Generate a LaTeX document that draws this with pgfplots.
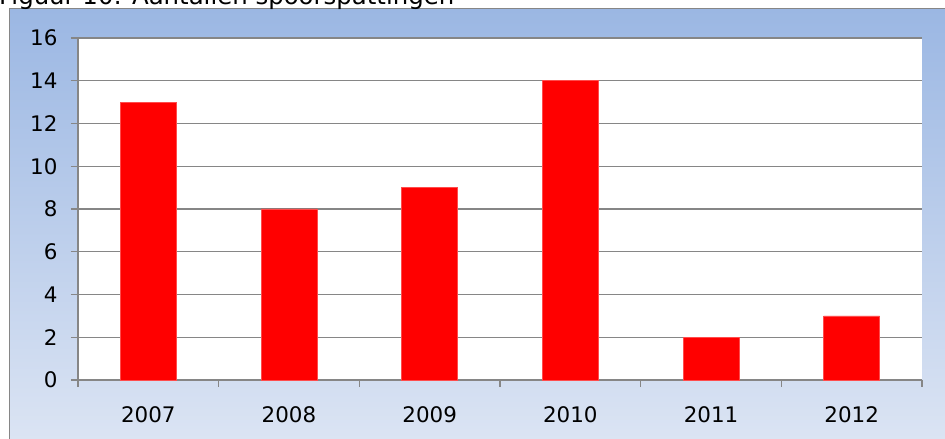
\documentclass[border=0pt]{standalone}
\usepackage{pgfplots}
\pgfplotsset{compat=1.18}
\usepackage{fontspec}
\setmainfont{DejaVu Sans}
\definecolor{bgtop}{RGB}{155,183,227}
\definecolor{bgbot}{RGB}{222,230,244}
\definecolor{axgray}{RGB}{134,134,134}
\begin{document}
\begin{tikzpicture}[x=1bp,y=1bp]
\path[use as bounding box] (0,0) rectangle (945,439);
\clip (0,0) rectangle (945,439);
\shade[top color=bgtop, bottom color=bgbot, draw=axgray, line width=1bp] (9,-20) rectangle (960,430);
\node[anchor=base west, inner sep=0pt, font=\fontsize{24.5}{28}\selectfont] at (-1,434) {Figuur 10: Aantallen spoorspattingen};
\begin{axis}[
  at={(78bp,59bp)}, anchor=south west,
  scale only axis, width=844bp, height=342bp,
  xmin=-0.5, xmax=5.5, ymin=0, ymax=16,
  axis lines=left, axis line style={draw=axgray, line width=1.3bp, -},
  axis background/.style={fill=white},
  xtick={0,...,5},
  xticklabels={2007,2008,2009,2010,2011,2012},
  minor xtick={-0.5,0.5,...,5.5},
  ytick={0,2,...,16},
  tick align=outside,
  major tick length=7bp, minor tick length=7bp,
  x tick style={draw=none},
  minor x tick style={draw=axgray, line width=1.3bp},
  y tick style={draw=axgray, line width=1.3bp},
  ymajorgrids, grid style={draw=axgray, line width=1.3bp},
  tick label style={font=\fontsize{21.5}{25}\selectfont},
  /pgf/number format/assume math mode=true,
  xticklabel style={yshift=-16bp},
  yticklabel style={xshift=-10bp},
  ybar, bar width=56bp,
  clip=false,
]
\addplot[fill=red, draw=red!70!white, line width=0.6bp] coordinates {(0,13) (1,8) (2,9) (3,14) (4,2) (5,3)};
\end{axis}
\end{tikzpicture}
\end{document}
